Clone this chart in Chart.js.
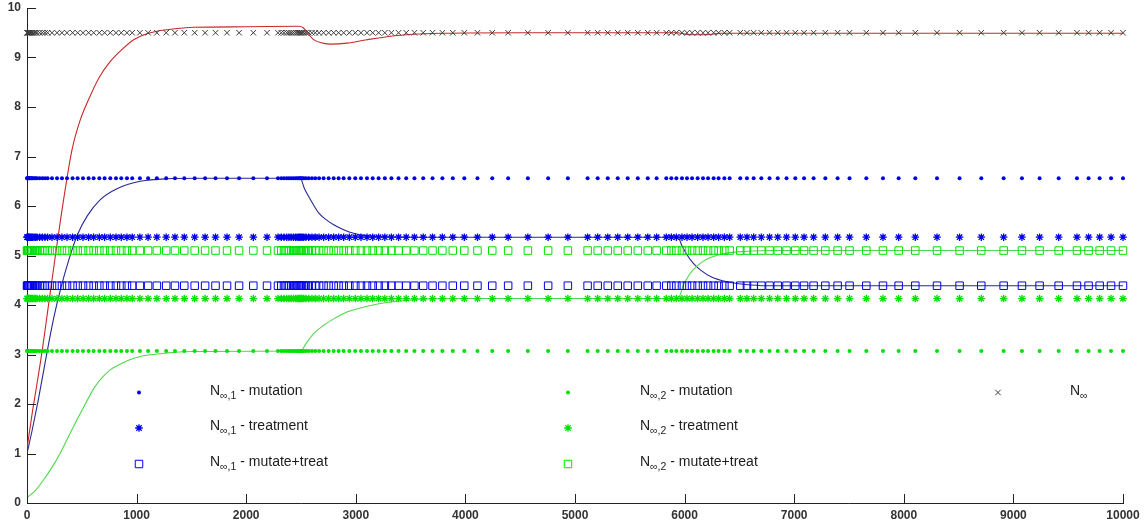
<!DOCTYPE html>
<html lang="en">
<head>
<meta charset="UTF-8">
<title>N infinity - mutation / treatment</title>
<script src="https://cdn.jsdelivr.net/npm/chart.js"></script>
<style>
  html, body { margin: 0; padding: 0; background: #fff; }
  canvas { display: block; }
</style>
</head>
<body>
<canvas id="popChart" width="1146" height="527"></canvas>
<script>
// solver time points, shared by every marker row
const tSteps = [0, 3, 7, 12, 18, 25, 33, 42, 52, 65, 78, 91, 115, 140, 164, 188, 228, 274, 319, 365,
  416, 462, 511, 562, 608, 660, 708, 760, 812, 860, 912, 960, 1030, 1105, 1185, 1270, 1350, 1435,
  1530, 1625, 1720, 1825, 1935, 2065, 2190, 2290, 2320, 2345, 2370, 2390, 2410, 2430, 2450, 2465,
  2480, 2490, 2500, 2510, 2525, 2545, 2570, 2600, 2630, 2665, 2706, 2752, 2798, 2843, 2889, 2941,
  2995, 3047, 3102, 3154, 3208, 3265, 3325, 3390, 3460, 3535, 3615, 3700, 3790, 3885, 3990, 4110,
  4245, 4390, 4570, 4755, 4935, 5115, 5207, 5299, 5390, 5481, 5573, 5664, 5745, 5833, 5879, 5925,
  5976, 6022, 6068, 6119, 6168, 6214, 6265, 6310, 6363, 6411, 6508, 6569, 6630, 6700, 6775, 6850,
  6930, 7010, 7090, 7177, 7284, 7396, 7505, 7658, 7810, 7953, 8105, 8303, 8509, 8707, 8911, 9078,
  9239, 9413, 9580, 9686, 9787, 9891, 10000];

// steady state levels
const levelTotal = 9.5;
const level1Mutation = 6.56;
const level1Treatment = 5.37;
const level1Both = 4.39;
const level2Mutation = 3.07;
const level2Treatment = 4.13;
const level2Both = 5.1;

// simulated populations [t, N]
const curveN1 = [[0, 1.0], [50, 1.5], [100, 2.05], [150, 2.65], [200, 3.25], [250, 3.8], [304, 4.3],
  [380, 4.9], [456, 5.4], [550, 5.8], [669, 6.13], [821, 6.35], [1034, 6.5], [1277, 6.55],
  [1600, 6.56], [2494, 6.56], [2530, 6.36], [2570, 6.19], [2620, 6.0], [2661, 5.86], [2720, 5.74],
  [2798, 5.62], [2900, 5.51], [2980, 5.45], [3100, 5.4], [3250, 5.38], [3450, 5.37], [5940, 5.37],
  [5975, 5.2], [6020, 5.02], [6080, 4.84], [6143, 4.71], [6250, 4.56], [6387, 4.47], [6538, 4.42],
  [6750, 4.39], [10000, 4.39]];
const curveN2 = [[0, 0.11], [76, 0.25], [152, 0.47], [228, 0.72], [304, 1.01], [380, 1.35],
  [456, 1.68], [532, 2.0], [620, 2.35], [700, 2.57], [760, 2.69], [821, 2.77], [920, 2.88],
  [1034, 2.96], [1150, 3.0], [1277, 3.03], [1520, 3.06], [2500, 3.07], [2540, 3.2], [2615, 3.42],
  [2700, 3.58], [2798, 3.72], [2900, 3.84], [3041, 3.94], [3200, 4.02], [3406, 4.08], [3619, 4.12],
  [4000, 4.13], [5940, 4.13], [5991, 4.41], [6040, 4.6], [6082, 4.72], [6143, 4.84], [6204, 4.93],
  [6290, 5.0], [6387, 5.05], [6538, 5.08], [6800, 5.1], [10000, 5.1]];
const curveTotal = [[0, 1.1], [50, 1.85], [97, 2.49], [140, 3.1], [182, 3.77], [258, 4.98],
  [334, 6.13], [411, 7.14], [480, 7.7], [562, 8.15], [660, 8.6], [760, 8.92], [870, 9.17],
  [973, 9.36], [1080, 9.47], [1186, 9.53], [1350, 9.58], [1520, 9.61], [2000, 9.62], [2480, 9.63],
  [2520, 9.6], [2570, 9.47], [2615, 9.36], [2700, 9.29], [2767, 9.27], [2920, 9.29], [3102, 9.36],
  [3406, 9.45], [3800, 9.49], [4500, 9.5], [5930, 9.5], [6050, 9.46], [6200, 9.46], [6330, 9.49],
  [10000, 9.49]];

const xTicks = [0, 1000, 2000, 3000, 4000, 5000, 6000, 7000, 8000, 9000, 10000];
const yTicks = [0, 1, 2, 3, 4, 5, 6, 7, 8, 9, 10];

const blue = 'rgb(0,0,235)';
const green = 'rgb(0,225,0)';
const looks = {
  dotB:  { style: 'circle', radius: 2, width: 0, color: blue, fill: true },
  starB: { style: 'star', radius: 3.8, width: 1.3, color: blue },
  boxB:  { style: 'rect', radius: 5.3, width: 1, color: blue },
  dotG:  { style: 'circle', radius: 2, width: 0, color: green, fill: true },
  starG: { style: 'star', radius: 3.8, width: 1.3, color: green },
  boxG:  { style: 'rect', radius: 5.3, width: 1, color: green },
  cross: { style: 'crossRot', radius: 3.9, width: 1, color: '#3c3c3c' }
};

// legend rows: subscript and rest of the text after "N"
const legendItems = [
  { look: 'dotB', sub: '\u221e,1', text: ' - mutation', col: 0, row: 0 },
  { look: 'starB', sub: '\u221e,1', text: ' - treatment', col: 0, row: 1 },
  { look: 'boxB', sub: '\u221e,1', text: ' - mutate+treat', col: 0, row: 2 },
  { look: 'dotG', sub: '\u221e,2', text: ' - mutation', col: 1, row: 0 },
  { look: 'starG', sub: '\u221e,2', text: ' - treatment', col: 1, row: 1 },
  { look: 'boxG', sub: '\u221e,2', text: ' - mutate+treat', col: 1, row: 2 },
  { look: 'cross', sub: '\u221e', text: '', col: 2, row: 0 }
];

function markerSet(level, look) {
  return {
    data: tSteps.map(t => ({ x: t, y: level })),
    showLine: false,
    pointStyle: look.style,
    pointRadius: look.radius,
    pointHoverRadius: look.radius,
    pointBorderWidth: look.width,
    pointBorderColor: look.color,
    pointBackgroundColor: look.fill ? look.color : 'rgba(0,0,0,0)',
    clip: 8
  };
}

function curveSet(points, color) {
  return {
    data: points.map(p => ({ x: p[0], y: p[1] })),
    showLine: true,
    borderColor: color,
    borderWidth: 1.1,
    pointRadius: 0,
    cubicInterpolationMode: 'monotone',
    fill: false
  };
}

const innerTicks = {
  id: 'innerTicks',
  afterDatasetsDraw(chart) {
    const { ctx, scales: { x, y } } = chart;
    ctx.save();
    ctx.strokeStyle = '#222';
    ctx.lineWidth = 1;
    ctx.beginPath();
    x.ticks.forEach(t => {
      const px = Math.round(x.getPixelForValue(t.value)) + 0.5;
      ctx.moveTo(px, y.bottom);
      ctx.lineTo(px, y.bottom - 9);
    });
    y.ticks.forEach(t => {
      const py = Math.round(y.getPixelForValue(t.value)) + 0.5;
      ctx.moveTo(x.left, py);
      ctx.lineTo(x.left + 9, py);
    });
    ctx.stroke();
    ctx.restore();
  }
};

const mathLegend = {
  id: 'mathLegend',
  afterDraw(chart) {
    const ctx = chart.ctx;
    const markX = [139, 568, 998];
    const textX = [210, 640, 1070];
    const baseY = [395, 430, 466];
    const markY = [392.5, 428, 464];
    ctx.save();
    legendItems.forEach(item => {
      const look = looks[item.look];
      ctx.strokeStyle = look.color;
      ctx.fillStyle = look.fill ? look.color : 'rgba(0,0,0,0)';
      ctx.lineWidth = look.width;
      Chart.helpers.drawPoint(ctx, {
        pointStyle: look.style, radius: look.radius, rotation: 0, borderWidth: look.width
      }, markX[item.col], markY[item.row]);

      let cx = textX[item.col];
      const by = baseY[item.row];
      ctx.fillStyle = '#1c1c1c';
      ctx.textBaseline = 'alphabetic';
      ctx.font = '14px "Liberation Sans", Arial, sans-serif';
      ctx.fillText('N', cx, by);
      cx += ctx.measureText('N').width;
      ctx.font = '10.5px "Liberation Sans", Arial, sans-serif';
      ctx.fillText(item.sub, cx, by + 4);
      cx += ctx.measureText(item.sub).width;
      ctx.font = '14px "Liberation Sans", Arial, sans-serif';
      ctx.fillText(item.text, cx, by);
    });
    ctx.restore();
  }
};

const tickFont = { family: '"Liberation Sans", Arial, sans-serif', size: 12, weight: 'bold' };

new Chart(document.getElementById('popChart'), {
  type: 'scatter',
  data: {
    datasets: [
      markerSet(levelTotal, looks.cross),
      markerSet(level1Mutation, looks.dotB),
      markerSet(level1Treatment, looks.starB),
      markerSet(level1Both, looks.boxB),
      markerSet(level2Mutation, looks.dotG),
      markerSet(level2Treatment, looks.starG),
      markerSet(level2Both, looks.boxG),
      curveSet(curveN2, 'rgb(80,215,80)'),
      curveSet(curveN1, 'rgb(40,40,150)'),
      curveSet(curveTotal, 'rgb(200,40,40)')
    ]
  },
  options: {
    responsive: false,
    animation: false,
    events: [],
    layout: { padding: { left: 0, right: 23, top: 8, bottom: 0 } },
    plugins: {
      legend: { display: false },
      tooltip: { enabled: false }
    },
    scales: {
      x: {
        type: 'linear',
        min: 0,
        max: 10000,
        afterBuildTicks: s => { s.ticks = xTicks.map(v => ({ value: v })); },
        afterFit: s => { s.height = 24; s.paddingLeft = 0; s.paddingRight = 0; },
        grid: { display: false, drawTicks: false },
        border: { display: true, color: '#222', width: 1 },
        ticks: { color: '#333', font: tickFont, padding: 5, maxRotation: 0, callback: v => String(v) }
      },
      y: {
        type: 'linear',
        min: 0,
        max: 10,
        afterBuildTicks: s => { s.ticks = yTicks.map(v => ({ value: v })); },
        afterFit: s => { s.width = 27; s.paddingTop = 0; s.paddingBottom = 0; },
        grid: { display: false, drawTicks: false },
        border: { display: true, color: '#222', width: 1 },
        ticks: { color: '#333', font: tickFont, padding: 6, callback: v => String(v) }
      }
    }
  },
  plugins: [innerTicks, mathLegend]
});
</script>
</body>
</html>
